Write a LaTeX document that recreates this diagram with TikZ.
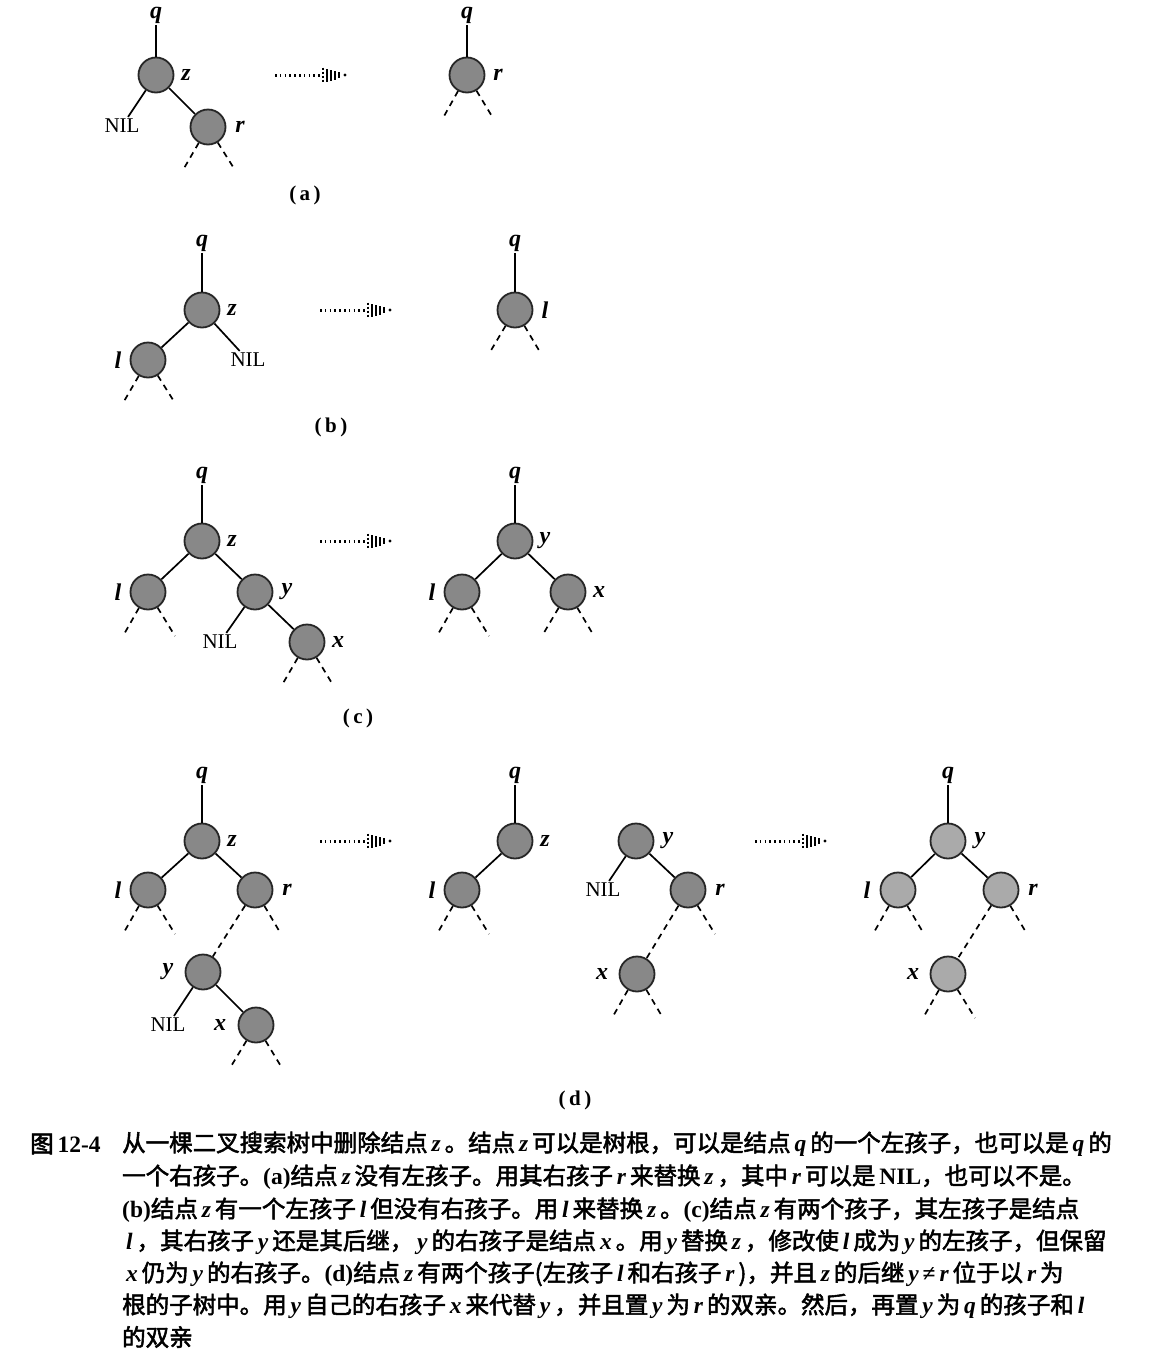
\documentclass[tikz,border=0pt]{standalone}
\usepackage{fontspec}
\setmainfont{Liberation Serif}
\newfontfamily\cjk{Noto Sans CJK SC}[AutoFakeBold=2.2]
\newfontfamily\latn{Liberation Serif}
\newcommand\ltv[1]{\,{\latn\bfseries\itshape #1}\,}
\newcommand\ltr[1]{{\latn\bfseries #1}}
\definecolor{nodegray}{RGB}{136,136,136}
\definecolor{nodelight}{RGB}{170,170,170}
\begin{document}
\begin{tikzpicture}[x=1pt,y=-1pt,
  tn/.style={circle, draw=black!85, line width=1.8pt, fill=nodegray, minimum size=35pt, inner sep=0pt},
  tnl/.style={tn, fill=nodelight},
  lab/.style={font=\fontsize{24}{26}\selectfont\bfseries\itshape, inner sep=1.5pt},
  nil/.style={font=\fontsize{21}{24}\selectfont, inner sep=2pt},
  sublab/.style={font=\fontsize{21}{24}\selectfont\bfseries},
  edge/.style={line width=1.7pt},
  sub/.style={line width=1.7pt, dash pattern=on 6pt off 5pt},
  captext/.style={anchor=west, inner sep=0pt, font=\fontsize{23.5}{26}\selectfont\cjk\bfseries},
  xform/.pic={
    \draw[line width=3pt, dash pattern=on 1.6pt off 3.2pt] (0,0) -- (47,0);
    \draw[line width=1.6pt, dash pattern=on 2pt off 2pt] (48,-7.5) -- (48,7.5);
    \fill (51,-6.5) rectangle (53,6.5);
    \fill (55,-5.5) rectangle (57,5.5);
    \fill (59,-4.5) rectangle (61,4.5);
    \fill (63,-3) rectangle (65,3);
    \fill (70,0) circle (1.6);
  }]
\useasboundingbox[fill=white] (0,0) rectangle (1168,1358);

% ---------- (a) ----------
\node[lab] (qa) at (156,15) {q};
\node[tn] (za) at (156,75) {};
\node[lab] (zla) at (186,75) {z};
\node[nil] (nila) at (122,126) {NIL};
\node[tn] (ra) at (208,127) {};
\node[lab] (rla) at (240,127) {r};
\coordinate (ra1) at (183,170);
\coordinate (ra2) at (235,170);
\draw[edge] (qa) -- (za);
\draw[edge] (za) -- (nila);
\draw[edge] (za) -- (ra);
\draw[sub] (ra) -- (ra1);
\draw[sub] (ra) -- (ra2);
\coordinate (arra) at (275,75);
\pic at (arra) {xform};
\node[lab] (qa2) at (467,15) {q};
\node[tn] (ra3) at (467,75) {};
\node[lab] (rla3) at (498,75) {r};
\coordinate (ra4) at (443,118);
\coordinate (ra5) at (493,118);
\draw[edge] (qa2) -- (ra3);
\draw[sub] (ra3) -- (ra4);
\draw[sub] (ra3) -- (ra5);
\node[sublab] (capa) at (305,195) {(\,a\,)};

% ---------- (b) ----------
\node[lab] (qb) at (202,243) {q};
\node[tn] (zb) at (202,310) {};
\node[lab] (zlb) at (232,310) {z};
\node[tn] (lb) at (148,360) {};
\node[lab] (llb) at (118,360) {l};
\node[nil] (nilb) at (248,360) {NIL};
\coordinate (lb1) at (123,403);
\coordinate (lb2) at (175,403);
\draw[edge] (qb) -- (zb);
\draw[edge] (zb) -- (lb);
\draw[edge] (zb) -- (nilb);
\draw[sub] (lb) -- (lb1);
\draw[sub] (lb) -- (lb2);
\coordinate (arrb) at (320,310);
\pic at (arrb) {xform};
\node[lab] (qb2) at (515,243) {q};
\node[tn] (lb3) at (515,310) {};
\node[lab] (llb3) at (545,310) {l};
\coordinate (lb4) at (490,352);
\coordinate (lb5) at (540,352);
\draw[edge] (qb2) -- (lb3);
\draw[sub] (lb3) -- (lb4);
\draw[sub] (lb3) -- (lb5);
\node[sublab] (capb) at (331,427) {(\,b\,)};

% ---------- (c) ----------
\node[lab] (qc) at (202,475) {q};
\node[tn] (zc) at (202,541) {};
\node[lab] (zlc) at (232,541) {z};
\node[tn] (lc) at (148,592) {};
\node[lab] (llc) at (118,592) {l};
\node[tn] (yc) at (255,592) {};
\node[lab] (ylc) at (287,592) {y};
\node[nil] (nilc) at (220,642) {NIL};
\node[tn] (xc) at (307,642) {};
\node[lab] (xlc) at (338,642) {x};
\coordinate (lc1) at (123,636);
\coordinate (lc2) at (175,636);
\coordinate (xc1) at (282,685);
\coordinate (xc2) at (333,685);
\draw[edge] (qc) -- (zc);
\draw[edge] (zc) -- (lc);
\draw[edge] (zc) -- (yc);
\draw[edge] (yc) -- (nilc);
\draw[edge] (yc) -- (xc);
\draw[sub] (lc) -- (lc1);
\draw[sub] (lc) -- (lc2);
\draw[sub] (xc) -- (xc1);
\draw[sub] (xc) -- (xc2);
\coordinate (arrc) at (320,541);
\pic at (arrc) {xform};
\node[lab] (qc2) at (515,475) {q};
\node[tn] (yc2) at (515,541) {};
\node[lab] (ylc2) at (545,541) {y};
\node[tn] (lc3) at (462,592) {};
\node[lab] (llc3) at (432,592) {l};
\node[tn] (xc3) at (568,592) {};
\node[lab] (xlc3) at (599,592) {x};
\coordinate (lc4) at (437,636);
\coordinate (lc5) at (489,636);
\coordinate (xc4) at (542,636);
\coordinate (xc5) at (594,636);
\draw[edge] (qc2) -- (yc2);
\draw[edge] (yc2) -- (lc3);
\draw[edge] (yc2) -- (xc3);
\draw[sub] (lc3) -- (lc4);
\draw[sub] (lc3) -- (lc5);
\draw[sub] (xc3) -- (xc4);
\draw[sub] (xc3) -- (xc5);
\node[sublab] (capc) at (358,718) {(\,c\,)};

% ---------- (d) ----------
\node[lab] (qd) at (202,775) {q};
\node[tn] (zd) at (202,841) {};
\node[lab] (zld) at (232,841) {z};
\node[tn] (ld) at (148,890) {};
\node[lab] (lld) at (118,890) {l};
\node[tn] (rd) at (255,890) {};
\node[lab] (rld) at (287,890) {r};
\node[tn] (yd) at (203,972) {};
\node[lab] (yld) at (168,972) {y};
\node[nil] (nild) at (168,1025) {NIL};
\node[tn] (xd) at (256,1025) {};
\node[lab] (xld) at (220,1025) {x};
\coordinate (ld1) at (123,934);
\coordinate (ld2) at (175,934);
\coordinate (rd1) at (281,934);
\coordinate (xd1) at (230,1068);
\coordinate (xd2) at (282,1068);
\draw[edge] (qd) -- (zd);
\draw[edge] (zd) -- (ld);
\draw[edge] (zd) -- (rd);
\draw[edge] (yd) -- (nild);
\draw[edge] (yd) -- (xd);
\draw[sub] (ld) -- (ld1);
\draw[sub] (ld) -- (ld2);
\draw[sub] (rd) -- (rd1);
\draw[sub] (rd) -- (yd);
\draw[sub] (xd) -- (xd1);
\draw[sub] (xd) -- (xd2);
\coordinate (arrd) at (320,841);
\pic at (arrd) {xform};
% middle: q keeps z with left child l
\node[lab] (qd2) at (515,775) {q};
\node[tn] (zd2) at (515,841) {};
\node[lab] (zld2) at (545,841) {z};
\node[tn] (ld3) at (462,890) {};
\node[lab] (lld3) at (432,890) {l};
\coordinate (ld4) at (437,934);
\coordinate (ld5) at (489,934);
\draw[edge] (qd2) -- (zd2);
\draw[edge] (zd2) -- (ld3);
\draw[sub] (ld3) -- (ld4);
\draw[sub] (ld3) -- (ld5);
% middle: y takes r as right child
\node[tn] (yd2) at (636,841) {};
\node[lab] (yld2) at (668,841) {y};
\node[nil] (nild2) at (603,890) {NIL};
\node[tn] (rd2) at (688,890) {};
\node[lab] (rld2) at (720,890) {r};
\node[tn] (xd3) at (637,974) {};
\node[lab] (xld3) at (602,974) {x};
\coordinate (rd3) at (715,934);
\coordinate (xd4) at (612,1018);
\coordinate (xd5) at (663,1018);
\draw[edge] (yd2) -- (nild2);
\draw[edge] (yd2) -- (rd2);
\draw[sub] (rd2) -- (rd3);
\draw[sub] (rd2) -- (xd3);
\draw[sub] (xd3) -- (xd4);
\draw[sub] (xd3) -- (xd5);
\coordinate (arrd2) at (755,841);
\pic at (arrd2) {xform};
% right: final tree
\node[lab] (qd3) at (948,775) {q};
\node[tnl] (yd3) at (948,841) {};
\node[lab] (yld3) at (980,841) {y};
\node[tnl] (ld6) at (898,890) {};
\node[lab] (lld6) at (867,890) {l};
\node[tnl] (rd4) at (1001,890) {};
\node[lab] (rld4) at (1033,890) {r};
\node[tnl] (xd6) at (948,974) {};
\node[lab] (xld6) at (913,974) {x};
\coordinate (ld7) at (873,934);
\coordinate (ld8) at (924,934);
\coordinate (rd5) at (1027,934);
\coordinate (xd7) at (923,1018);
\coordinate (xd8) at (975,1018);
\draw[edge] (qd3) -- (yd3);
\draw[edge] (yd3) -- (ld6);
\draw[edge] (yd3) -- (rd4);
\draw[sub] (ld6) -- (ld7);
\draw[sub] (ld6) -- (ld8);
\draw[sub] (rd4) -- (rd5);
\draw[sub] (rd4) -- (xd6);
\draw[sub] (xd6) -- (xd7);
\draw[sub] (xd6) -- (xd8);
\node[sublab] (capd) at (575,1100) {(\,d\,)};

% ---------- caption ----------
\node[captext] (fig) at (30,1144) {图\,\ltr{12-4}};
\node[captext] (c1) at (122,1144) {从一棵二叉搜索树中删除结点\ltv{z}。结点\ltv{z}可以是树根，可以是结点\ltv{q}的一个左孩子，也可以是\ltv{q}的};
\node[captext] (c2) at (122,1177) {一个右孩子。\ltr{(a)}结点\ltv{z}没有左孩子。用其右孩子\ltv{r}来替换\ltv{z}，其中\ltv{r}可以是\,\ltr{NIL}，也可以不是。};
\node[captext] (c3) at (122,1210) {\ltr{(b)}结点\ltv{z}有一个左孩子\ltv{l}但没有右孩子。用\ltv{l}来替换\ltv{z}。\ltr{(c)}结点\ltv{z}有两个孩子，其左孩子是结点};
\node[captext] (c4) at (122,1242) {\ltv{l}，其右孩子\ltv{y}还是其后继，\ltv{y}的右孩子是结点\ltv{x}。用\ltv{y}替换\ltv{z}，修改使\ltv{l}成为\ltv{y}的左孩子，但保留};
\node[captext] (c5) at (122,1274) {\ltv{x}仍为\ltv{y}的右孩子。\ltr{(d)}结点\ltv{z}有两个孩子(左孩子\ltv{l}和右孩子\ltv{r})，并且\ltv{z}的后继\ltv{y}{\latn\bfseries ≠}\ltv{r}位于以\ltv{r}为};
\node[captext] (c6) at (122,1306) {根的子树中。用\ltv{y}自己的右孩子\ltv{x}来代替\ltv{y}，并且置\ltv{y}为\ltv{r}的双亲。然后，再置\ltv{y}为\ltv{q}的孩子和\ltv{l}};
\node[captext] (c7) at (122,1337) {的双亲};
\end{tikzpicture}
\end{document}
